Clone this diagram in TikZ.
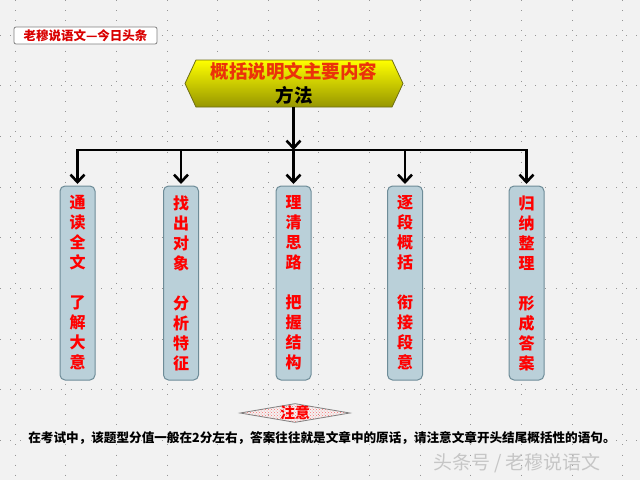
\documentclass[tikz,border=0pt]{standalone}
\usepackage{fontspec}
\newfontfamily\cjk{Noto Sans CJK SC}
\usetikzlibrary{arrows.meta,shapes.symbols,shapes.geometric,patterns}
\definecolor{bgc}{RGB}{242,242,242}
\definecolor{gridc}{RGB}{150,150,150}
\definecolor{boxfill}{RGB}{186,208,217}
\definecolor{boxdraw}{RGB}{110,140,152}
\definecolor{titletop}{RGB}{255,255,0}
\definecolor{titlebot}{RGB}{150,150,0}
\definecolor{titledraw}{RGB}{110,110,20}
\definecolor{titlered}{RGB}{235,50,10}
\tikzset{
  gridl/.style={gridc, line width=0.9pt, dash pattern=on 0.9pt off 9.2pt},
  arr/.style={line width=2.6pt, -{Straight Barb[length=7.5pt,width=14pt]}},
  trunk/.style={line width=2.6pt, line cap=rect},
  stepbox/.style={draw=boxdraw, line width=1pt, fill=boxfill, rounded corners=5pt,
    minimum width=35pt, minimum height=194pt, inner sep=0pt, text=red, align=center,
    font=\cjk\bfseries\fontsize{16}{20}\selectfont},
}
\begin{document}
\begin{tikzpicture}[x=1pt,y=-1pt]
\fill[bgc] (0,0) rectangle (640,480);
\useasboundingbox (0,0) rectangle (640,480);
\foreach \i in {0,...,12} \draw[gridl] (15+50.65*\i,0) -- ++(0,480);
\foreach \i in {0,...,8} \draw[gridl] (0,35+50.7*\i) -- ++(640,0);

\node[draw=gray, line width=0.8pt, rounded corners=2pt, fill=white, minimum width=143pt, minimum height=17pt, inner sep=0pt, text=red!85!black, font=\cjk\bfseries\fontsize{12.5}{14}\selectfont] (tag) at (85.5,35.5) {老穆说语文—今日头条};

\node[signal, signal to=east and west, signal pointer angle=130, minimum width=218pt, minimum height=47pt, inner sep=0pt, top color=titletop, bottom color=titlebot, draw=titledraw, line width=0.8pt, align=center, font=\cjk\bfseries\fontsize{18.5}{24}\selectfont] (title) at (294,83.5) {\textcolor{titlered}{概括说明文主要内容}\\方法};

\node[stepbox] (b1) at (77.5,283) {通\\读\\全\\文\\\mbox{}\\了\\解\\大\\意};
\node[stepbox] (b2) at (181,283) {找\\出\\对\\象\\\mbox{}\\分\\析\\特\\征};
\node[stepbox] (b3) at (293.5,283) {理\\清\\思\\路\\\mbox{}\\把\\握\\结\\构};
\node[stepbox] (b4) at (405,283) {逐\\段\\概\\括\\\mbox{}\\衔\\接\\段\\意};
\node[stepbox] (b5) at (526.5,283) {归\\纳\\整\\理\\\mbox{}\\形\\成\\答\\案};

\coordinate (j) at (293.5,150);
\draw[trunk] (b1.north |- j) -- (b5.north |- j);
\draw[arr] (title.south -| j) -- (j);
\foreach \b in {b1,b2,b3,b4,b5} \draw[arr] (\b.north |- j) -- ([yshift=1.5pt]\b.north);

\node[diamond, aspect=5.8, minimum width=110pt, minimum height=19pt, inner sep=0pt, draw=gray, line width=0.8pt, fill=red!12, pattern=crosshatch dots, pattern color=red!55] (note) at (295,413) {};
\node[text=red, font=\cjk\bfseries\fontsize{15}{17}\selectfont] (notelabel) at (note.center) {注意};

\node[font=\cjk\bfseries\fontsize{12.6}{15}\selectfont] (tip) at (322,438) {在考试中，该题型分值一般在2分左右，答案往往就是文章中的原话，请注意文章开头结尾概括性的语句。};

\node[text=gray!45, font=\cjk\fontsize{19}{21}\selectfont] (wm) at (517,463) {头条号 / 老穆说语文};
\end{tikzpicture}
\end{document}
